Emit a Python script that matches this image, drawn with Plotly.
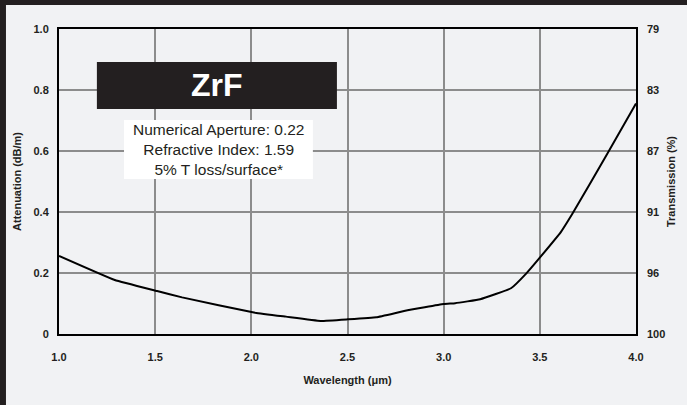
import plotly.graph_objects as go

# palette
INK = '#231f20'
BG = '#f1f2f4'
GRID = '#8c8c8c'
FONT = 'Liberation Sans, Arial, sans-serif'

# data
wavelength = [1.0, 1.29, 1.51, 1.64, 2.02, 2.18, 2.36, 2.5, 2.65, 2.8, 3.0, 3.06,
              3.19, 3.35, 3.43, 3.49, 3.61, 3.67, 3.85, 4.0]
attenuation = [0.256, 0.177, 0.141, 0.120, 0.070, 0.057, 0.043, 0.048, 0.055, 0.076,
               0.098, 0.101, 0.114, 0.150, 0.199, 0.243, 0.335, 0.395, 0.590, 0.756]

x_ticks = [1.0, 1.5, 2.0, 2.5, 3.0, 3.5, 4.0]
x_labels = ['1.0', '1.5', '2.0', '2.5', '3.0', '3.5', '4.0']
y_ticks = [0, 0.2, 0.4, 0.6, 0.8, 1.0]
y_labels = ['0', '0.2', '0.4', '0.6', '0.8', '1.0']
t_labels = ['100', '96', '91', '87', '83', '79']

title_txt = 'ZrF'
info_txt = 'Numerical Aperture: 0.22<br>Refractive Index: 1.59<br>5% T loss/surface*'

fig = go.Figure()
fig.add_trace(go.Scatter(
    x=wavelength, y=attenuation, mode='lines',
    line=dict(color='#000000', width=2, shape='spline', smoothing=0.3),
    showlegend=False, hoverinfo='skip',
))
# same curve on the transmission axis (invisible), just to carry the right axis
fig.add_trace(go.Scatter(
    x=wavelength, y=attenuation, mode='lines', yaxis='y2',
    line=dict(color='rgba(0,0,0,0)', width=0),
    showlegend=False, hoverinfo='skip',
))

tickfont = dict(family=FONT, size=11, color=INK, weight='bold')
titlefont = dict(family=FONT, size=11, color=INK, weight='bold')

# light panel over the dark paper -> leaves a dark strip on top and left
fig.add_shape(type='rect', xref='paper', yref='paper',
              x0=-0.0919, x1=1.3, y0=-0.4, y1=1.0787,
              fillcolor=BG, line_width=0, layer='below')

# black title box + white info box
fig.add_shape(type='rect', x0=1.197, x1=2.445, y0=0.738, y1=0.892,
              fillcolor=INK, line_width=0, layer='above')
fig.add_shape(type='rect', x0=1.338, x1=2.32, y0=0.508, y1=0.702,
              fillcolor='#ffffff', line_width=0, layer='above')
fig.add_annotation(x=1.82, y=0.815, text=title_txt, showarrow=False,
                   font=dict(family=FONT, size=32, color='#ffffff', weight='bold'))
fig.add_annotation(x=1.83, y=0.605, text=info_txt, showarrow=False,
                   font=dict(family=FONT, size=15.5, color=INK))

fig.update_layout(
    width=687, height=405,
    paper_bgcolor=INK, plot_bgcolor=BG,
    margin=dict(l=59, r=51, t=29, b=71),
    font=dict(family=FONT, color=INK),
    xaxis=dict(
        range=[1.0, 4.0], tickvals=x_ticks, ticktext=x_labels,
        showgrid=True, gridcolor=GRID, gridwidth=1.5,
        showline=True, linecolor='#000000', linewidth=2, mirror=True,
        ticks='', tickfont=tickfont, ticklabelstandoff=12, zeroline=False,
        title=dict(text='Wavelength (μm)', font=titlefont, standoff=14),
    ),
    yaxis=dict(
        range=[0, 1.0], tickvals=y_ticks, ticktext=y_labels,
        showgrid=True, gridcolor=GRID, gridwidth=1.5,
        showline=True, linecolor='#000000', linewidth=2, mirror=True,
        ticks='', tickfont=tickfont, ticklabelstandoff=6, zeroline=False,
        title=dict(text='Attenuation (dB/m)', font=titlefont, standoff=10),
    ),
    yaxis2=dict(
        range=[0, 1.0], tickvals=y_ticks, ticktext=t_labels,
        overlaying='y', side='right', showgrid=False, zeroline=False,
        ticks='', tickfont=tickfont, ticklabelstandoff=10,
        title=dict(text='Transmission (%)', font=titlefont, standoff=2),
    ),
)

fig.write_html('out.html', config={'displayModeBar': False},
               post_script="document.body.style.margin='0';")
